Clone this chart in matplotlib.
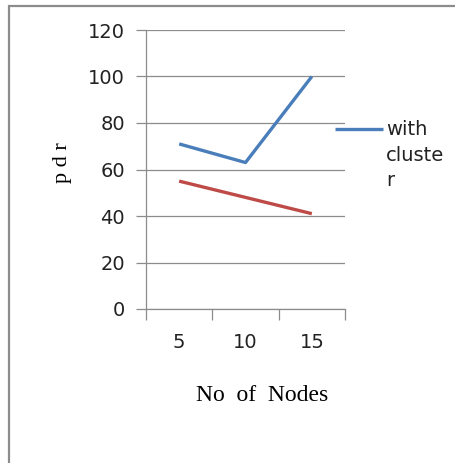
import numpy as np
import matplotlib
matplotlib.use('Agg')
import matplotlib.pyplot as plt
from matplotlib.patches import Rectangle
from matplotlib.legend_handler import HandlerLine2D

categories = ['5', '10', '15']
with_cluster = [71, 63, 100]
without_cluster = [55, 48, 41]
yticks = [0, 20, 40, 60, 80, 100, 120]


class TopLineHandler(HandlerLine2D):
    # put the legend line next to the first line of a wrapped label
    def __init__(self, shift, **kw):
        super().__init__(**kw)
        self.shift = shift

    def create_artists(self, legend, orig_handle, xdescent, ydescent, width, height, fontsize, trans):
        arts = super().create_artists(legend, orig_handle, xdescent, ydescent, width, height, fontsize, trans)
        for a in arts:
            a.set_ydata(np.asarray(a.get_ydata()) + self.shift)
        return arts


W, H = 456, 463
fig = plt.figure(figsize=(W / 100, H / 100), dpi=100)

# outer chart frame (cut off at the right and bottom)
fig.patches.append(Rectangle((9 / W, -0.05), 1.1, 1 - 6 / H + 0.05, transform=fig.transFigure,
                             fill=False, edgecolor='#8c8c8c', linewidth=1.6))

ax = fig.add_axes([146 / W, 1 - 309 / H, 199 / W, 279 / H])
x = np.arange(1, len(categories) + 1)

l1, = ax.plot(x, with_cluster, color='#4a7ebb', linewidth=2.4, solid_capstyle='butt')
ax.plot(x, without_cluster, color='#be4b48', linewidth=2.4, solid_capstyle='butt')

ax.set_xlim(0.5, 3.5)
ax.set_ylim(0, 120)
ax.set_yticks(yticks)
ax.grid(axis='y', color='#8c8c8c', linewidth=0.9)
ax.set_axisbelow(True)

ax.set_xticks([0.5, 1.5, 2.5, 3.5])
ax.set_xticklabels([])
ax.set_xticks(x, minor=True)
ax.set_xticklabels(categories, minor=True)
ax.tick_params(axis='x', which='major', length=8, color='#8c8c8c', width=0.9)
ax.tick_params(axis='x', which='minor', length=0, pad=17, labelsize=14, labelcolor='#222222')
ax.tick_params(axis='y', length=7, color='#8c8c8c', width=0.9, labelsize=14, labelcolor='#222222', pad=8)

for s in ['top', 'right']:
    ax.spines[s].set_visible(False)
for s in ['left', 'bottom']:
    ax.spines[s].set_color('#8c8c8c')
    ax.spines[s].set_linewidth(0.9)

ax.set_ylabel('p d r', family='Liberation Serif', fontsize=16)
ax.yaxis.set_label_coords(-0.372, 0.523)
ax.set_xlabel('No  of  Nodes', family='Liberation Serif', fontsize=17)
ax.xaxis.set_label_coords(0.583, -0.272)

leg = fig.legend([l1], ['with\ncluste\nr'], loc='upper left', bbox_to_anchor=(327 / W, 1 - 112 / H),
                 frameon=False, fontsize=14, handlelength=2.5, handletextpad=0.15, borderaxespad=0,
                 handler_map={l1: TopLineHandler(19.5)})
for t in leg.get_texts():
    t.set_color('#222222')
    t.set_linespacing(1.45)

fig.savefig('out.png', dpi=100)
